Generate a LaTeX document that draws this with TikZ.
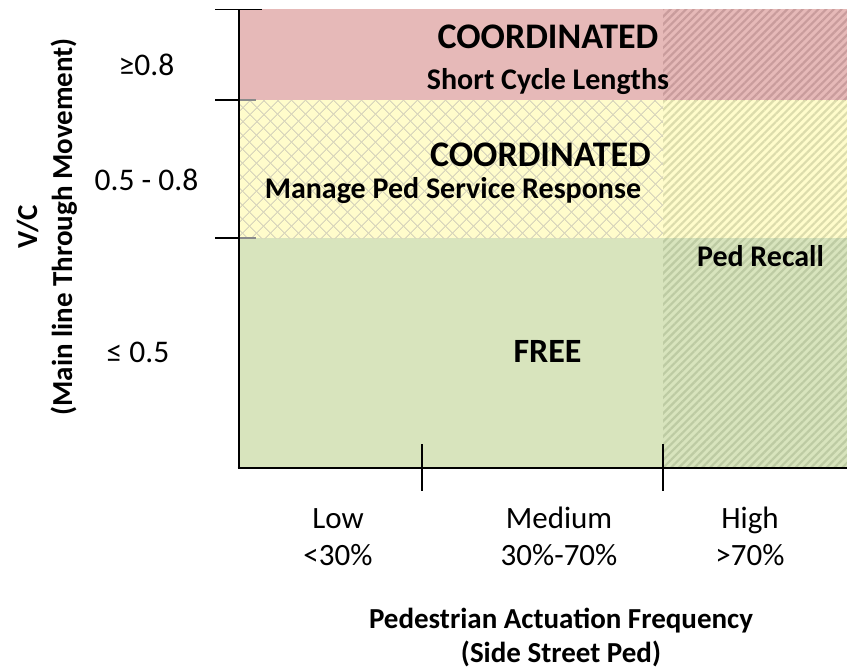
\documentclass[tikz,border=0pt]{standalone}
\usepackage{fontspec}
\setmainfont{Carlito}
\usetikzlibrary{patterns.meta}

\definecolor{bandred}{HTML}{E6B9B8}
\definecolor{bandyellow}{HTML}{FFFCCB}
\definecolor{bandgreen}{HTML}{D8E4BD}
\definecolor{hatchred}{HTML}{C99C9C}
\definecolor{hatchyellow}{HTML}{DCDCAC}
\definecolor{hatchgreen}{HTML}{BDCBA3}
\definecolor{gridgray}{HTML}{D9D6BC}
\definecolor{tickgray}{HTML}{8A8A8A}

\begin{document}
\begin{tikzpicture}[x=1pt,y=-1pt,
  axisline/.style={line width=2pt, black},
  tickline/.style={line width=1.6pt, black},
  innertick/.style={line width=1.6pt, tickgray},
  crossgrid/.style={pattern={Lines[angle=45,distance=10.5pt,line width=1pt]}, pattern color=gridgray},
  crossgridb/.style={pattern={Lines[angle=-45,distance=10.5pt,line width=1pt]}, pattern color=gridgray},
  stripes/.style={pattern={Lines[angle=45,distance=5.5pt,line width=2.2pt]}},
  bigtitle/.style={font=\bfseries\fontsize{36}{42}\selectfont, anchor=base, inner sep=0pt},
  freetitle/.style={font=\bfseries\fontsize{34}{40}\selectfont, anchor=base, inner sep=0pt},
  subtitle/.style={font=\bfseries\fontsize{30}{36}\selectfont, anchor=base, inner sep=0pt},
  vclabel/.style={font=\fontsize{31.5}{37}\selectfont, anchor=base, inner sep=0pt},
  ticklabel/.style={font=\fontsize{31}{37}\selectfont, anchor=base, inner sep=0pt},
  axistitle/.style={font=\bfseries\fontsize{29}{34}\selectfont, anchor=base, inner sep=0pt}
]
\useasboundingbox (0,0) rectangle (847,672);

% coloured bands
\fill[bandred]    (239,9)   rectangle (847,100);
\fill[bandyellow] (239,100) rectangle (847,238);
\fill[bandgreen]  (239,238) rectangle (847,467);

% diamond grid on the middle band
\fill[crossgrid]  (239,100) rectangle (663,238);
\fill[crossgridb] (239,100) rectangle (663,238);

% striped column for high actuation
\fill[stripes, pattern color=hatchred]    (663,9)   rectangle (847,100);
\fill[stripes, pattern color=hatchyellow] (663,100) rectangle (847,238);
\fill[stripes, pattern color=hatchgreen]  (663,238) rectangle (847,467);

% axes
\draw[axisline] (238.5,9) -- (238.5,468);
\draw[axisline] (237.5,467.5) -- (847,467.5);

% vertical axis ticks
\draw[tickline] (215,9.5) -- (262,9.5);
\draw[tickline] (215,100) -- (238,100);
\draw[innertick] (239.5,100) -- (256,100);
\draw[tickline] (215,238) -- (238,238);
\draw[innertick] (239.5,238) -- (256,238);

% horizontal axis ticks
\draw[tickline] (422,444) -- (422,491);
\draw[tickline] (663,444) -- (663,491);

% region labels
\node[bigtitle] (redhead) at (548,48) {COORDINATED};
\node[subtitle] (redsub) at (548,89) {Short Cycle Lengths};
\node[bigtitle] (yellowhead) at (540.5,166) {COORDINATED};
\node[subtitle] (yellowsub) at (453,198) {Manage Ped Service Response};
\node[subtitle] (recall) at (760.5,266) {Ped Recall};
\node[freetitle] (free) at (547.5,362) {FREE};

% vertical axis labels
\node[vclabel] (vchigh) at (146.5,75) {≥0.8};
\node[vclabel] (vcmid) at (146.5,190) {0.5 - 0.8};
\node[vclabel] (vclow) at (138,362) {≤ 0.5};
\node[rotate=90, align=center, inner sep=0pt,
      font=\bfseries\fontsize{29}{35}\selectfont] (vctitle) at (47,227)
      {V/C\\(Main line Through Movement)};

% horizontal axis labels
\node[ticklabel] (lowname) at (338,528) {Low};
\node[ticklabel] (lowpct) at (338,565) {<30\%};
\node[ticklabel] (medname) at (559,528) {Medium};
\node[ticklabel] (medpct) at (559,565) {30\%-70\%};
\node[ticklabel] (highname) at (750,528) {High};
\node[ticklabel] (highpct) at (750,565) {>70\%};
\node[axistitle] (pedtitle) at (561,628) {Pedestrian Actuation Frequency};
\node[axistitle] (pedsub) at (561,662) {(Side Street Ped)};
\end{tikzpicture}
\end{document}
